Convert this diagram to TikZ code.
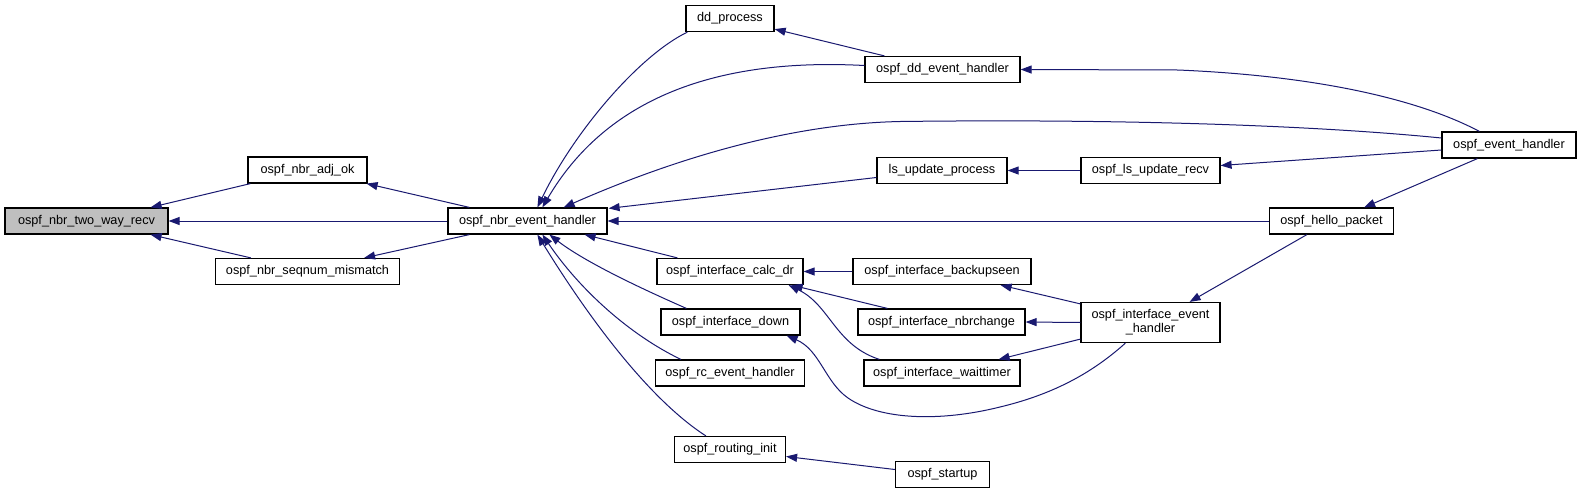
\documentclass[tikz,border=0pt]{standalone}
\usepackage{fontspec}
\setmainfont{Liberation Sans}
\usetikzlibrary{arrows.meta,calc}
\definecolor{edgecol}{HTML}{191970}
\begin{document}
\begin{tikzpicture}[x=0.5pt,y=-0.5pt,
  fn/.style={draw=black,line width=0.6pt,fill=white,inner sep=0pt,
    minimum width={#1*0.5pt},minimum height=13pt,
    font=\fontsize{6.35}{7}\selectfont,align=center},
  e/.style={draw=edgecol,line width=0.5pt,-{Triangle[length=5.5pt,width=4pt]}}]
\useasboundingbox[fill=white] (0,0) rectangle (1581,493);
% nodes
\node[fn=163,fill=gray!50] (tw) at (86.5,221) {ospf\_nbr\_two\_way\_recv};
\node[fn=119] (adj) at (307.5,170) {ospf\_nbr\_adj\_ok};
\node[fn=184] (seq) at (307.5,271.5) {ospf\_nbr\_seqnum\_mismatch};
\node[fn=159] (neh) at (527.5,221) {ospf\_nbr\_event\_handler};
\node[fn=88] (ddp) at (730,18.5) {dd\_process};
\node[fn=155] (ddeh) at (942.5,69.5) {ospf\_dd\_event\_handler};
\node[fn=134] (eh) at (1509,145) {ospf\_event\_handler};
\node[fn=130] (lsp) at (942,170.5) {ls\_update\_process};
\node[fn=139] (lsr) at (1150.5,170.5) {ospf\_ls\_update\_recv};
\node[fn=124] (hello) at (1331.5,221) {ospf\_hello\_packet};
\node[fn=146] (cdr) at (730,271.5) {ospf\_interface\_calc\_dr};
\node[fn=178] (bks) at (942,271.5) {ospf\_interface\_backupseen};
\node[fn=139] (down) at (730.5,322) {ospf\_interface\_down};
\node[fn=167] (nbc) at (941.5,322) {ospf\_interface\_nbrchange};
\node[fn=139,minimum height=20pt] (ieh) at (1150.5,322.5) {ospf\_interface\_event\\\_handler};
\node[fn=149] (rc) at (730,373) {ospf\_rc\_event\_handler};
\node[fn=156] (wt) at (942,373) {ospf\_interface\_waittimer};
\node[fn=111] (ri) at (730,449.5) {ospf\_routing\_init};
\node[fn=94] (st) at (942.5,474.5) {ospf\_startup};
% edges
\draw[e] ($(adj.south west)+(3,0)$) -- ($(tw.north east)+(-18,0)$);
\draw[e] (neh.west) -- (tw.east);
\draw[e] ($(seq.north west)+(36,0)$) -- ($(tw.south east)+(-18,0)$);
\draw[e] ($(neh.north west)+(22,0)$) -- ($(adj.south east)+(-1,0)$);
\draw[e] ($(neh.south west)+(22,0)$) -- ($(seq.north east)+(-36,0)$);
\draw[e] ($(ddp.south west)+(2,0)$) .. controls (640,55) and (575,130) .. ($(neh.north west)+(90,0)$);
\draw[e] ($(ddeh.west)+(0,-4)$) .. controls (760,60) and (620,75) .. ($(neh.north west)+(95,0)$);
\draw[e] ($(eh.west)+(0,-7)$) .. controls (1300,124) and (1100,119) .. (900,121.5)
   .. controls (780,124) and (660,165) .. ($(neh.north east)+(-44,0)$);
\draw[e] ($(lsp.west)+(0,7)$) -- ($(neh.north east)+(1,1)$);
\draw[e] (hello.west) -- (neh.east);
\draw[e] ($(cdr.north west)+(21,0)$) -- ($(neh.south east)+(-23,0)$);
\draw[e] ($(down.north west)+(26,0)$) .. controls (640,288) and (585,262) .. ($(neh.south west)+(102,0)$);
\draw[e] ($(rc.north west)+(26,0)$) .. controls (630,335) and (580,290) .. ($(neh.south west)+(95,0)$);
\draw[e] ($(ri.north west)+(32,0)$) .. controls (650,400) and (590,320) .. ($(neh.south west)+(90,0)$);
\draw[e] ($(ddeh.north west)+(20,0)$) -- ($(ddp.south east)+(0,-3)$);
\draw[e] ($(eh.north west)+(38,0)$) .. controls (1420,100) and (1320,76) .. (1178,70) -- (ddeh.east);
\draw[e] (lsr.west) -- (lsp.east);
\draw[e] ($(eh.west)+(0,5)$) -- ($(lsr.east)+(0,-5)$);
\draw[e] ($(eh.south west)+(36,0)$) -- ($(hello.north east)+(-30,0)$);
\draw[e] ($(hello.south west)+(38,0)$) -- ($(ieh.north east)+(-31,0)$);
\draw[e] (bks.west) -- (cdr.east);
\draw[e] ($(nbc.north west)+(30,0)$) -- ($(cdr.south east)+(-12,0)$);
\draw[e] ($(wt.north west)+(16,0)$) .. controls (835,345) and (830,305) .. ($(cdr.south east)+(-15,0)$);
\draw[e] ($(ieh.north west)+(0,2)$) -- ($(bks.south east)+(-31,0)$);
\draw[e] (ieh.west) -- (nbc.east);
\draw[e] ($(ieh.south west)+(0,-4)$) -- ($(wt.north east)+(-22,0)$);
\draw[e] ($(ieh.south west)+(45,0)$) .. controls (1090,375) and (1050,395) .. (1000,407)
   .. controls (940,422) and (880,420) .. (848,398)
   .. controls (825,382) and (820,350) .. ($(down.south east)+(-14,0)$);
\draw[e] ($(st.west)+(0,-5)$) -- ($(ri.east)+(0,7)$);
\end{tikzpicture}
\end{document}
